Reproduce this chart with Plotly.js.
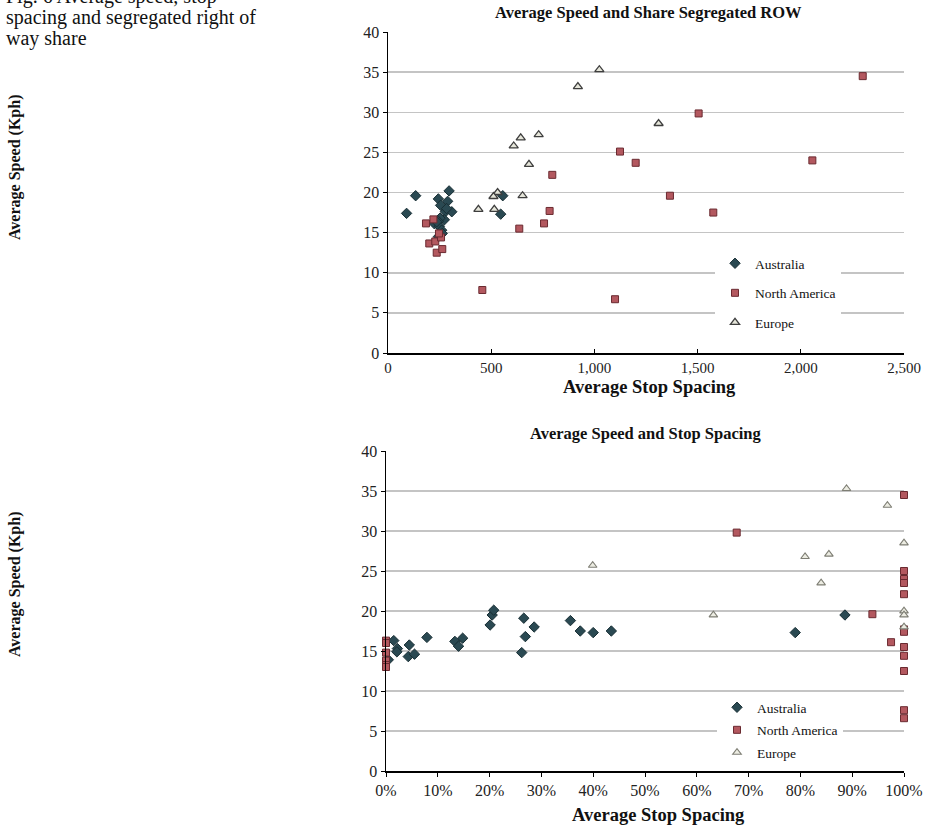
<!DOCTYPE html>
<html>
<head>
<meta charset="utf-8">
<script src="https://cdn.plot.ly/plotly-3.0.1.min.js"></script>
<style>html,body{margin:0;padding:0;background:#fff;}#chart{width:929px;height:828px;}</style>
</head>
<body>
<div id="chart"></div>
<script>
// ---- Data: top chart (x = average stop spacing) ----
var auTopX = [90,134,296,244,289,255,278,309,284,273,252,244,225,249,260,263,244,236,556,546];
var auTopY = [17.4,19.6,20.2,19.2,18.9,18.4,17.6,17.6,18.0,16.6,16.8,16.4,16.1,15.8,15.3,14.9,14.5,16.35,19.6,17.3];
var naTopX = [2300,1505,1124,1200,2056,796,1366,1576,783,756,1100,184,220,200,229,236,263,257,247,636,457];
var naTopY = [34.5,29.85,25.1,23.7,24.0,22.2,19.6,17.5,17.7,16.15,6.7,16.15,16.65,13.65,13.9,12.5,12.95,14.4,14.9,15.5,7.85];
var euTopX = [1024,920,1311,730,643,609,683,652,531,511,438,515];
var euTopY = [35.3,33.2,28.6,27.2,26.8,25.8,23.5,19.6,20.0,19.5,17.9,17.9];

// ---- Data: bottom chart (x = share segregated ROW) ----
var auBotX = [0.0045,0.015,0.022,0.021,0.045,0.043,0.055,0.079,0.133,0.140,0.148,0.201,0.205,0.208,0.262,0.266,0.269,0.286,0.356,0.375,0.40,0.435,0.79,0.886];
var auBotY = [13.9,16.3,15.3,14.9,15.75,14.3,14.6,16.7,16.2,15.6,16.6,18.25,19.5,20.1,14.8,19.1,16.8,18.0,18.8,17.5,17.3,17.5,17.3,19.5];
var naBotX = [0,0,0,0,0,0,0.677,0.939,0.975,1,1,1,1,1,1,1,1,1,1,1,1];
var naBotY = [16.3,16.0,14.8,13.8,13.25,13.0,29.8,19.6,16.1,34.5,25.0,24.0,23.5,22.1,17.7,17.4,15.5,14.4,12.5,7.6,6.6];
var euBotX = [0.399,0.632,0.809,0.840,0.855,0.889,0.968,1,1,1,1];
var euBotY = [25.7,19.5,26.8,23.5,27.1,35.3,33.2,28.5,20.0,19.5,18.0];

var seriesNames = ["Australia","North America","Europe"];
var yTicks = [0,5,10,15,20,25,30,35,40];

var serif = "Liberation Serif, Times New Roman, serif";
var W = 929, H = 828;
function px(x){return x/W;}
function py(y){return 1 - y/H;}

var auMarker = {symbol:"diamond", size:8, color:"#2A4952", line:{color:"#182E34", width:1}};
var naMarker = {symbol:"square", size:7, color:"#B3585F", line:{color:"#6A2A30", width:1}};
var euMarker = {symbol:"triangle-up", size:8, color:"#E6E6DA", line:{color:"#3E3E3E", width:1.3}};
var euMarker2 = {symbol:"triangle-up", size:7.5, color:"#ECECE2", line:{color:"#7E7E74", width:1.1}};

var traces = [
  {x:auTopX, y:auTopY, xaxis:"x", yaxis:"y", mode:"markers", type:"scatter", name:seriesNames[0], marker:auMarker, legend:"legend", legendgroup:"a1", cliponaxis:false},
  {x:naTopX, y:naTopY, xaxis:"x", yaxis:"y", mode:"markers", type:"scatter", name:seriesNames[1], marker:naMarker, legend:"legend", legendgroup:"b1", cliponaxis:false},
  {x:euTopX, y:euTopY, xaxis:"x", yaxis:"y", mode:"markers", type:"scatter", name:seriesNames[2], marker:euMarker, legend:"legend", legendgroup:"c1", cliponaxis:false},
  {x:auBotX, y:auBotY, xaxis:"x2", yaxis:"y2", mode:"markers", type:"scatter", name:seriesNames[0], marker:auMarker, legend:"legend2", legendgroup:"a2", cliponaxis:false},
  {x:naBotX, y:naBotY, xaxis:"x2", yaxis:"y2", mode:"markers", type:"scatter", name:seriesNames[1], marker:naMarker, legend:"legend2", legendgroup:"b2", cliponaxis:false},
  {x:euBotX, y:euBotY, xaxis:"x2", yaxis:"y2", mode:"markers", type:"scatter", name:seriesNames[2], marker:euMarker2, legend:"legend2", legendgroup:"c2", cliponaxis:false}
];

var tickFont = {family:serif, size:16, color:"#222"};
function yAxis(dom, anchor){
  return {domain:dom, anchor:anchor, range:[0,40], tickvals:yTicks, showgrid:true, gridcolor:"#C4C4C4", gridwidth:1.5,
    zeroline:false, showline:true, linecolor:"#000", linewidth:1.5, ticks:"outside", ticklen:4, tickcolor:"#000",
    tickfont:tickFont, fixedrange:true};
}

var layout = {
  width:W, height:H, margin:{l:0,r:0,t:0,b:0}, paper_bgcolor:"#fff", plot_bgcolor:"#fff",
  showlegend:true, font:{family:serif},
  xaxis:{domain:[px(388),px(904)], anchor:"y", range:[0,2500], dtick:500, tickformat:",", showgrid:false, zeroline:false,
    showline:true, linecolor:"#000", linewidth:1.5, ticks:"inside", ticklen:4, tickcolor:"#000", tickfont:{family:serif, size:15, color:"#222"}},
  yaxis:yAxis([py(353),py(32)], "x"),
  xaxis2:{domain:[px(386),px(904)], anchor:"y2", range:[0,1], dtick:0.1, tickformat:".0%", showgrid:false, zeroline:false,
    showline:true, linecolor:"#000", linewidth:2, ticks:"outside", ticklen:4, tickcolor:"#000", tickfont:tickFont},
  yaxis2:yAxis([py(771),py(451)], "x2"),
  legend:{x:px(715), y:py(248), xanchor:"left", yanchor:"top", bgcolor:"#fff", borderwidth:0,
    font:{family:serif, size:13.5, color:"#111"}, tracegroupgap:9, itemwidth:30},
  legend2:{x:px(717), y:py(692), xanchor:"left", yanchor:"top", bgcolor:"#fff", borderwidth:0,
    font:{family:serif, size:13.5, color:"#111"}, tracegroupgap:2, itemwidth:30},
  annotations:[
    {text:"Fig. 6 Average speed, stop", xref:"paper", yref:"paper", x:px(4), y:py(-3), xanchor:"left", yanchor:"middle", showarrow:false, font:{family:serif, size:20, color:"#111"}},
    {text:"spacing and segregated right of", xref:"paper", yref:"paper", x:px(4), y:py(18), xanchor:"left", yanchor:"middle", showarrow:false, font:{family:serif, size:20, color:"#111"}},
    {text:"way share", xref:"paper", yref:"paper", x:px(4), y:py(39), xanchor:"left", yanchor:"middle", showarrow:false, font:{family:serif, size:20, color:"#111"}},
    {text:"<b>Average Speed and Share Segregated ROW</b>", xref:"paper", yref:"paper", x:px(648), y:py(13), xanchor:"center", yanchor:"middle", showarrow:false, font:{family:serif, size:16.5, color:"#111"}},
    {text:"<b>Average Speed and Stop Spacing</b>", xref:"paper", yref:"paper", x:px(645), y:py(433), xanchor:"center", yanchor:"middle", showarrow:false, font:{family:serif, size:16.5, color:"#111"}},
    {text:"<b>Average Stop Spacing</b>", xref:"paper", yref:"paper", x:px(649), y:py(387), xanchor:"center", yanchor:"middle", showarrow:false, font:{family:serif, size:18.5, color:"#111"}},
    {text:"<b>Average Stop Spacing</b>", xref:"paper", yref:"paper", x:px(658), y:py(815), xanchor:"center", yanchor:"middle", showarrow:false, font:{family:serif, size:18.5, color:"#111"}},
    {text:"<b>Average Speed (Kph)</b>", xref:"paper", yref:"paper", x:px(15), y:py(168), xanchor:"center", yanchor:"middle", textangle:-90, showarrow:false, font:{family:serif, size:16, color:"#111"}},
    {text:"<b>Average Speed (Kph)</b>", xref:"paper", yref:"paper", x:px(15), y:py(585), xanchor:"center", yanchor:"middle", textangle:-90, showarrow:false, font:{family:serif, size:16, color:"#111"}}
  ]
};

Plotly.newPlot("chart", traces, layout, {displayModeBar:false, staticPlot:true});
</script>
</body>
</html>
